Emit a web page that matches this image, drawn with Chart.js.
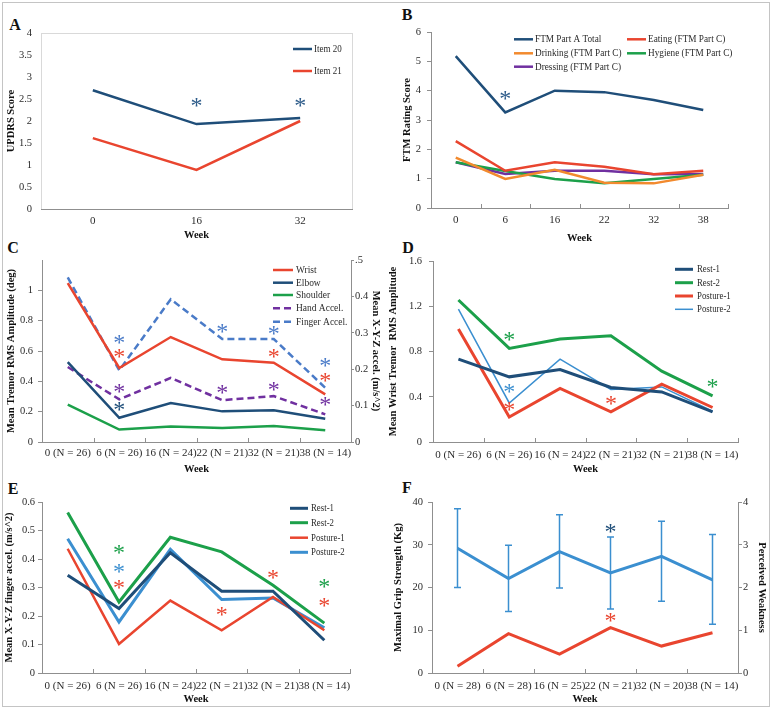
<!DOCTYPE html>
<html>
<head>
<meta charset="utf-8">
<script src="https://cdn.jsdelivr.net/npm/chart.js@4.4.1/dist/chart.umd.min.js"></script>
<style>
  html, body { margin: 0; padding: 0; background: #fff; }
  #fig { position: relative; width: 773px; height: 711px; overflow: hidden; }
  #frame { position: absolute; left: 2px; top: 2px; width: 766px; height: 703px; border: 1px solid #c4c4c4; }
  canvas { position: absolute; }
  .tag { position: absolute; font: bold 16px "Liberation Serif", serif; color: #111; transform: translate(-50%, -50%); line-height: 1; }
</style>
</head>
<body>
<div id="fig">
  <div id="frame"></div>
  <div class="tag" style="left:15px;top:25px">A</div>
  <div class="tag" style="left:407px;top:15px">B</div>
  <div class="tag" style="left:13px;top:248px">C</div>
  <div class="tag" style="left:408px;top:248px">D</div>
  <div class="tag" style="left:13px;top:489px">E</div>
  <div class="tag" style="left:407px;top:488px">F</div>
</div>
<script>
// ---- data ----
const weeksA = ['0', '16', '32'];
const item20 = [2.70, 1.93, 2.07];
const item21 = [1.61, 0.89, 2.00];

const weeksB = ['0', '6', '16', '22', '32', '38'];
const ftmTotal = [5.18, 3.26, 4.00, 3.95, 3.68, 3.34];
const eating = [2.28, 1.27, 1.56, 1.41, 1.15, 1.27];
const drinking = [1.72, 0.99, 1.30, 0.86, 0.84, 1.13];
const hygiene = [1.56, 1.26, 0.99, 0.84, 0.99, 1.13];
const dressing = [1.56, 1.16, 1.27, 1.27, 1.15, 1.16];

const weeksN = ['0 (N = 26)', '6 (N = 26)', '16 (N = 24)', '22 (N = 21)', '32 (N = 21)', '38 (N = 14)'];
const wrist = [1.048, 0.488, 0.692, 0.545, 0.523, 0.314];
const elbow = [0.527, 0.160, 0.257, 0.202, 0.209, 0.154];
const shoulder = [0.246, 0.082, 0.103, 0.092, 0.105, 0.077];
const handAccel = [0.206, 0.117, 0.176, 0.115, 0.126, 0.076];
const fingerAccel = [0.452, 0.197, 0.392, 0.283, 0.283, 0.149];

const rest1D = [0.732, 0.576, 0.641, 0.482, 0.443, 0.266];
const rest2D = [1.255, 0.827, 0.910, 0.939, 0.626, 0.407];
const posture1D = [0.998, 0.221, 0.473, 0.266, 0.511, 0.305];
const posture2D = [1.175, 0.345, 0.732, 0.464, 0.487, 0.272];

const rest1E = [0.343, 0.226, 0.422, 0.287, 0.287, 0.115];
const rest2E = [0.563, 0.249, 0.476, 0.425, 0.308, 0.175];
const posture1E = [0.436, 0.102, 0.254, 0.150, 0.267, 0.150];
const posture2E = [0.471, 0.179, 0.434, 0.258, 0.263, 0.159];

const weeksF = ['0 (N = 28)', '6 (N = 28)', '16 (N = 25)', '22 (N = 21)', '32 (N = 20)', '38 (N = 14)'];
const grip = [29.2, 22.1, 28.4, 23.4, 27.3, 21.8];
const gripHigh = [38.4, 29.9, 37.0, 31.8, 35.5, 32.4];
const gripLow = [20.0, 14.4, 19.9, 15.0, 16.8, 11.4];
const weakness = [0.16, 0.92, 0.44, 1.06, 0.63, 0.94];

// significance asterisks: [category index, value on left axis, colour]
const NAVY = '#1F4E79', RED = '#E9452F', GREEN = '#1CA04A', ORANGE = '#F28A2E',
      PURPLE = '#7030A0', BLUE = '#4A7BC8', LBLUE = '#3B8FD0', STARNAVY = '#2E5C8A';
const starsA = [[1, 2.43, STARNAVY], [2, 2.43, STARNAVY]];
const starsB = [[1, 3.85, STARNAVY]];
const starsC = [[1, 0.675, BLUE], [1, 0.583, RED], [1, 0.356, PURPLE], [1, 0.231, NAVY],
                [3, 0.747, BLUE], [3, 0.347, PURPLE],
                [4, 0.732, BLUE], [4, 0.583, RED], [4, 0.363, PURPLE],
                [5, 0.527, BLUE], [5, 0.428, RED], [5, 0.270, PURPLE]];
const starsD = [[1, 0.93, GREEN], [1, 0.473, LBLUE], [1, 0.31, RED], [3, 0.363, RED], [5, 0.517, GREEN]];
const starsE = [[1, 0.434, GREEN], [1, 0.368, LBLUE], [1, 0.31, RED], [3, 0.216, RED],
                [4, 0.346, RED], [5, 0.313, GREEN], [5, 0.249, RED]];
const starsF = [[3, 33.8, NAVY], [3, 12.9, RED]];

// ---- helpers ----
const FONT = '"Liberation Serif", "Times New Roman", serif';
const TEXT = '#2b2b2b';
const AXIS = '#8f8f8f';
const fig = document.getElementById('fig');

const numLabel = v => String(Number(Number(v).toFixed(3)));

function fitTo(dim, size) {
  return s => {
    s[dim] = size;
    s.paddingLeft = 0; s.paddingRight = 0; s.paddingTop = 0; s.paddingBottom = 0;
  };
}

function xAxis(h, pad, titlePad) {
  return {
    type: 'category',
    offset: true,
    grid: { display: true, drawOnChartArea: false, drawTicks: false },
    border: { display: true, color: AXIS },
    ticks: { autoSkip: false, maxRotation: 0, minRotation: 0, padding: pad, color: TEXT, font: { family: FONT, size: 11 } },
    title: { display: true, text: 'Week', color: '#111', font: { family: FONT, size: 10.5, weight: 'bold' }, padding: { top: 0, bottom: titlePad } },
    afterFit: fitTo('height', h)
  };
}

function yAxis(o) {
  return {
    type: 'linear',
    position: o.pos || 'left',
    min: o.min, max: o.max,
    grid: { display: true, drawOnChartArea: false, drawTicks: o.tick > 0, tickLength: o.tick || 0, color: AXIS },
    border: { display: o.border !== false, color: AXIS },
    ticks: { stepSize: o.step, padding: o.pad, color: TEXT, font: { family: FONT, size: 10.5 }, callback: o.cb || numLabel },
    title: { display: true, text: o.title, color: '#111', font: { family: FONT, size: 10.5, weight: 'bold' }, padding: { top: o.titlePad, bottom: 0 } },
    afterFit: fitTo('width', o.w)
  };
}

function line(label, data, color, width, extra) {
  return Object.assign({ label, data, borderColor: color, backgroundColor: color, borderWidth: width,
    pointRadius: 0, tension: 0, fill: false }, extra || {});
}

// box, inner ticks, error bars, asterisks and legend
const extrasPlugin = {
  id: 'extras',
  beforeDraw(chart, args, opts) {
    if (!opts.box) return;
    const ctx = chart.ctx, a = chart.chartArea;
    ctx.save();
    ctx.strokeStyle = opts.box; ctx.lineWidth = 1;
    ctx.strokeRect(Math.round(a.left) + 0.5, Math.round(a.top) + 0.5, Math.round(a.right - a.left), Math.round(a.bottom - a.top));
    ctx.restore();
  },
  beforeDatasetsDraw(chart, args, opts) {
    if (!opts.errors) return;
    const ctx = chart.ctx, x = chart.scales.x, y = chart.scales.y, e = opts.errors;
    ctx.save();
    ctx.strokeStyle = e.color; ctx.lineWidth = 1.5;
    e.low.forEach((lo, i) => {
      const px = x.getPixelForValue(i), y1 = y.getPixelForValue(lo), y2 = y.getPixelForValue(e.high[i]);
      ctx.beginPath();
      ctx.moveTo(px, y1); ctx.lineTo(px, y2);
      ctx.moveTo(px - 3.5, y1); ctx.lineTo(px + 3.5, y1);
      ctx.moveTo(px - 3.5, y2); ctx.lineTo(px + 3.5, y2);
      ctx.stroke();
    });
    ctx.restore();
  },
  afterDraw(chart, args, opts) {
    const ctx = chart.ctx, x = chart.scales.x;
    ctx.save();
    if (opts.innerTicks) {
      ctx.strokeStyle = AXIS; ctx.lineWidth = 1;
      for (let i = 0; i <= chart.data.labels.length; i++) {
        const px = Math.round(x.getPixelForValue(i - 0.5)) + 0.5;
        ctx.beginPath(); ctx.moveTo(px, x.top); ctx.lineTo(px, x.top - opts.innerTicks); ctx.stroke();
      }
    }
    if (opts.stars) {
      const y = chart.scales.y;
      ctx.font = '24px ' + FONT;
      ctx.textAlign = 'center'; ctx.textBaseline = 'alphabetic';
      const m = ctx.measureText('*');
      const off = (m.actualBoundingBoxAscent - m.actualBoundingBoxDescent) / 2;
      opts.stars.forEach(([i, v, color]) => {
        ctx.fillStyle = color;
        ctx.fillText('*', x.getPixelForValue(i), y.getPixelForValue(v) + off);
      });
    }
    if (opts.legend) {
      // legend text in the source is set narrow, so squeeze it horizontally
      const L = opts.legend;
      ctx.font = '11px ' + FONT;
      ctx.textAlign = 'left'; ctx.textBaseline = 'middle';
      chart.data.datasets.forEach((ds, i) => {
        const [lx, ly] = L.pos[i];
        ctx.strokeStyle = ds.borderColor; ctx.lineWidth = ds.borderWidth;
        ctx.setLineDash(ds.borderDash || []);
        ctx.beginPath(); ctx.moveTo(lx, ly); ctx.lineTo(lx + L.len, ly); ctx.stroke();
        ctx.setLineDash([]);
        ctx.save();
        ctx.translate(lx + L.len + L.gap, ly);
        ctx.scale(L.sx, 1);
        ctx.fillStyle = TEXT;
        ctx.fillText(ds.label, 0, 0);
        ctx.restore();
      });
    }
    ctx.restore();
  }
};

function panel(box, labels, datasets, scales, padding, extras) {
  const c = document.createElement('canvas');
  c.width = box[2]; c.height = box[3];
  c.style.left = box[0] + 'px'; c.style.top = box[1] + 'px';
  c.style.width = box[2] + 'px'; c.style.height = box[3] + 'px';
  fig.appendChild(c);
  return new Chart(c, {
    type: 'line',
    data: { labels, datasets },
    options: {
      responsive: false, animation: false, devicePixelRatio: 1,
      layout: { padding: Object.assign({ left: 0, right: 0, top: 0, bottom: 0 }, padding) },
      plugins: { legend: { display: false }, tooltip: { enabled: false }, extras },
      scales
    },
    plugins: [extrasPlugin]
  });
}

const dash = { borderDash: [7, 4] };

// A
panel([0, 0, 386, 246], weeksA,
  [line('Item 20', item20, NAVY, 2.5), line('Item 21', item21, RED, 2.5)],
  { x: xAxis(37, 6, 4.4),
    y: yAxis({ w: 41, min: 0, max: 4, step: 0.5, tick: 0, pad: 9, title: 'UPDRS Score', titlePad: 5.4, border: false }) },
  { top: 33, right: 34 },
  { box: '#d9d9d9', stars: starsA, legend: { pos: [[293, 49], [293, 71]], len: 19, gap: 2, sx: 0.82 } });

// B
panel([386, 0, 387, 246], weeksB,
  [line('FTM Part A Total', ftmTotal, NAVY, 2.5), line('Eating (FTM Part C)', eating, RED, 2.5),
   line('Drinking (FTM Part C)', drinking, ORANGE, 2.5), line('Hygiene (FTM Part C)', hygiene, GREEN, 2.5),
   line('Dressing (FTM Part C)', dressing, PURPLE, 2.5)],
  { x: xAxis(38, 5.4, 1.4),
    y: yAxis({ w: 45, min: 0, max: 6, step: 1, tick: 4, pad: 6, title: 'FTM Rating Score', titlePad: 15.4 }) },
  { top: 32, right: 45 },
  { innerTicks: 4, stars: starsB,
    legend: { pos: [[128, 39.3], [241, 39.3], [128, 53.3], [241, 53.3], [128, 66.7]], len: 19, gap: 2, sx: 0.84 } });

// C
panel([0, 241, 386, 236], weeksN,
  [line('Wrist', wrist, RED, 2.5), line('Elbow', elbow, NAVY, 2.5), line('Shoulder', shoulder, GREEN, 2.5),
   line('Hand Accel.', handAccel, PURPLE, 2.5, Object.assign({ yAxisID: 'y1' }, dash)),
   line('Finger Accel.', fingerAccel, BLUE, 2.5, Object.assign({ yAxisID: 'y1' }, dash))],
  { x: xAxis(35, 4.4, 1.4),
    y: yAxis({ w: 42, min: 0, max: 1.2, step: 0.2, tick: 4, pad: 5, title: 'Mean Tremor RMS Amplitude (deg)', titlePad: 5.4,
               cb: v => (Math.abs(v - 1.2) < 1e-6 ? null : numLabel(v)) }),
    y1: yAxis({ pos: 'right', w: 35, min: 0, max: 0.5, step: 0.1, tick: 3, pad: 1, title: 'Mean X-Y-Z accel. (m/s^2)', titlePad: 4.4,
                cb: v => (Math.abs(v - 0.5) < 1e-6 ? '.5' : numLabel(v)) }) },
  { top: 19 },
  { innerTicks: 4, stars: starsC,
    legend: { pos: [[273, 29], [273, 41.7], [273, 54], [273, 67.3], [273, 80.7]], len: 20, gap: 3, sx: 0.86 } });

// D
panel([386, 241, 387, 236], weeksN,
  [line('Rest-1', rest1D, NAVY, 3), line('Rest-2', rest2D, GREEN, 3),
   line('Posture-1', posture1D, RED, 3), line('Posture-2', posture2D, LBLUE, 1.5)],
  { x: xAxis(35, 6.4, 1.4),
    y: yAxis({ w: 47, min: 0, max: 1.6, step: 0.4, tick: 4, pad: 7, title: 'Mean Wrist Tremor  RMS Amplitude', titlePad: 1.4 }) },
  { top: 20, right: 35 },
  { innerTicks: 4, stars: starsD,
    legend: { pos: [[289, 28.3], [289, 41.7], [289, 55], [289, 68.3]], len: 18, gap: 4, sx: 0.8 } });

// E
panel([0, 477, 386, 234], weeksN,
  [line('Rest-1', rest1E, NAVY, 3), line('Rest-2', rest2E, GREEN, 3),
   line('Posture-1', posture1E, RED, 2.5), line('Posture-2', posture2E, LBLUE, 3)],
  { x: xAxis(38, 7, 5.4),
    y: yAxis({ w: 42, min: 0, max: 0.6, step: 0.1, tick: 4, pad: 3, title: 'Mean X-Y-Z finger accel. (m/s^2)', titlePad: 3.4 }) },
  { top: 25, right: 36 },
  { innerTicks: 4, stars: starsE,
    legend: { pos: [[290, 31.3], [290, 45.7], [290, 60.7], [290, 75.3]], len: 18, gap: 3, sx: 0.8 } });

// F
panel([386, 477, 387, 234], weeksF,
  [line('Maximal Grip Strength', grip, LBLUE, 3),
   line('Perceived Weakness', weakness, RED, 3, { yAxisID: 'y1' })],
  { x: xAxis(38, 7, 5.4),
    y: yAxis({ w: 46, min: 0, max: 40, step: 10, tick: 4, pad: 5, title: 'Maximal Grip Strength (Kg)', titlePad: 6.4 }),
    y1: yAxis({ pos: 'right', w: 35, min: 0, max: 4, step: 1, tick: 4, pad: 1, title: 'Perceived Weakness', titlePad: 5.4 }) },
  { top: 25 },
  { innerTicks: 4, stars: starsF, errors: { low: gripLow, high: gripHigh, color: LBLUE } });
</script>
</body>
</html>
